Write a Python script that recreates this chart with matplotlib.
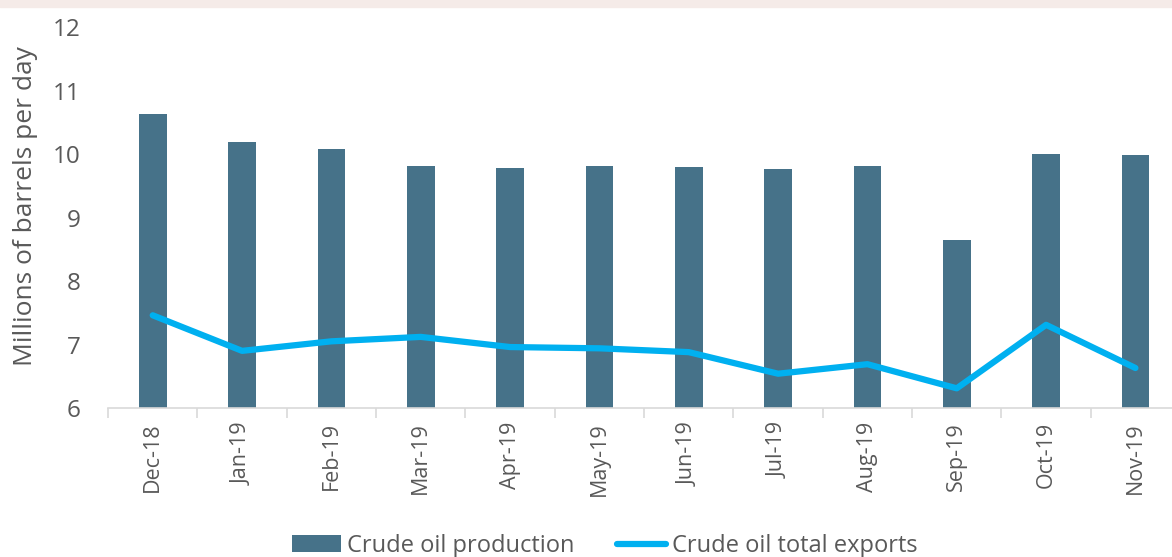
import matplotlib
matplotlib.use("Agg")
import matplotlib.pyplot as plt
import numpy as np
from matplotlib.patches import Rectangle

months = ["Dec-18", "Jan-19", "Feb-19", "Mar-19", "Apr-19", "May-19",
          "Jun-19", "Jul-19", "Aug-19", "Sep-19", "Oct-19", "Nov-19"]
production = [10.63, 10.19, 10.08, 9.81, 9.78, 9.81, 9.80, 9.76, 9.81, 8.65, 10.00, 9.98]
exports = [7.46, 6.90, 7.05, 7.12, 6.96, 6.94, 6.88, 6.54, 6.69, 6.31, 7.31, 6.63]
yticks = [6, 7, 8, 9, 10, 11, 12]

plt.rcParams['font.family'] = ['Open Sans', 'DejaVu Sans']
txt = '#595959'

fig = plt.figure(figsize=(11.72, 5.57), dpi=100)
fig.patches.append(Rectangle((0, 0.987), 1, 0.013, transform=fig.transFigure,
                             color='#f5ebe8', zorder=0))
ax = fig.add_axes([0.0922, 0.2675, 0.9147, 0.684])
x = np.arange(len(months))
bars = ax.bar(x, production, width=0.31, color='#467289', label='Crude oil production', zorder=2)
line, = ax.plot(x, exports, color='#00b0f0', lw=4.5, solid_capstyle='round',
                solid_joinstyle='round', label='Crude oil total exports', zorder=3)

ax.set_xlim(-0.5, len(months) - 0.5)
ax.set_ylim(6, 12)
ax.set_yticks(yticks)
ax.set_yticklabels([str(v) for v in yticks])
ax.set_xticks(x)
ax.set_xticklabels(months, rotation=90)
ax.set_xticks(np.arange(-0.5, len(months), 1), minor=True)
ax.tick_params(axis='x', which='major', length=0, pad=10, labelsize=15.5, labelcolor=txt)
ax.tick_params(axis='x', which='minor', length=7, color='#d9d9d9', width=1.2)
ax.tick_params(axis='y', length=0, pad=20, labelsize=17.5, labelcolor=txt)
for s in ['top', 'right', 'left']:
    ax.spines[s].set_visible(False)
ax.spines['bottom'].set_color('#d9d9d9')
ax.spines['bottom'].set_linewidth(1.2)
ax.set_ylabel('Millions of barrels per day', fontsize=19, color=txt)
ax.yaxis.set_label_coords(-0.065, 0.53)

fig.legend([bars, line], ['Crude oil production', 'Crude oil total exports'],
           loc='center', bbox_to_anchor=(0.516, 0.02), ncol=2, frameon=False,
           fontsize=17, labelcolor=txt, handlelength=2.1, handletextpad=0.25,
           columnspacing=1.8)

fig.savefig('out.png', dpi=100)
